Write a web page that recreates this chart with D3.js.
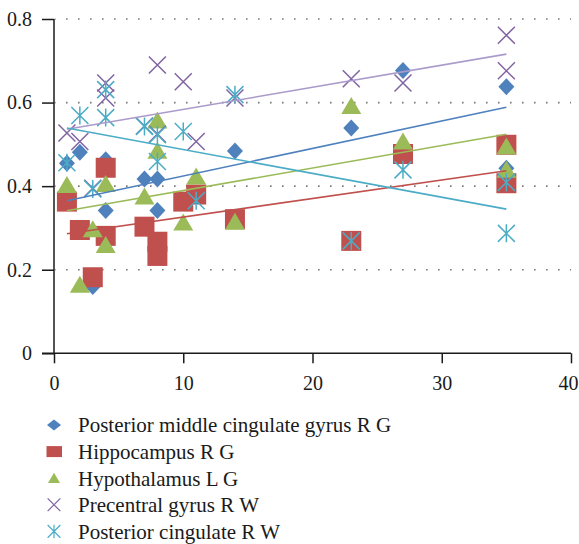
<!DOCTYPE html>
<html>
<head>
<meta charset="utf-8">
<script src="https://cdn.jsdelivr.net/npm/d3@7"></script>
<style>
  body { margin: 0; background: #fff; }
  svg { display: block; }
</style>
</head>
<body>
<div id="chart"></div>
<script>
const seriesNames = [
  "Posterior middle cingulate gyrus R G",
  "Hippocampus R G",
  "Hypothalamus L G",
  "Precentral gyrus R W",
  "Posterior cingulate R W"
];
const seriesColors = ["#4F81BD", "#C0504D", "#9BBB59", "#8064A2", "#4BACC6"];
const trendColors = ["#4F81BD", "#C0504D", "#9BBB59", "#ab9bcb", "#4BACC6"];
const markerKinds = ["diamond", "square", "triangle", "cross", "star"];

const xTicks = [0, 10, 20, 30, 40];
const yTicks = [0, 0.2, 0.4, 0.6, 0.8];

// x and y values, per series
const pmcgX = [1, 2, 3, 4, 4, 7, 8, 8, 10, 11, 14, 23, 27, 35, 35];
const pmcgY = [0.455, 0.481, 0.16, 0.463, 0.342, 0.417, 0.417, 0.342, 0.365, 0.38, 0.484, 0.539, 0.677, 0.638, 0.443];

const hippoX = [1, 2, 3, 4, 4, 7, 8, 8, 10, 11, 14, 23, 27, 35, 35];
const hippoY = [0.363, 0.295, 0.182, 0.444, 0.281, 0.303, 0.267, 0.233, 0.363, 0.38, 0.321, 0.269, 0.477, 0.499, 0.407];

const hypoX = [1, 2, 3, 4, 4, 7, 8, 8, 10, 11, 14, 23, 27, 35, 35];
const hypoY = [0.403, 0.164, 0.297, 0.405, 0.259, 0.375, 0.557, 0.485, 0.313, 0.423, 0.315, 0.592, 0.507, 0.495, 0.439];

const precX = [1, 2, 3, 4, 4, 7, 8, 8, 10, 11, 14, 23, 27, 35, 35];
const precY = [0.527, 0.507, 0.395, 0.647, 0.611, 0.544, 0.69, 0.525, 0.65, 0.507, 0.611, 0.657, 0.647, 0.761, 0.676];

const pcX = [1, 2, 3, 4, 4, 7, 8, 8, 10, 11, 14, 23, 27, 35, 35];
const pcY = [0.456, 0.569, 0.393, 0.631, 0.564, 0.543, 0.523, 0.459, 0.531, 0.365, 0.619, 0.269, 0.439, 0.409, 0.287];

// linear trend lines, value at x = 1 and x = 35
const trendX = [1, 35];
const trendStart = [0.365, 0.286, 0.341, 0.536, 0.539];
const trendEnd = [0.589, 0.437, 0.524, 0.716, 0.345];

const allX = [pmcgX, hippoX, hypoX, precX, pcX];
const allY = [pmcgY, hippoY, hypoY, precY, pcY];

const width = 579, height = 544;
const font = "'Liberation Serif', 'Times New Roman', serif";
const ink = "#1a1a1a";

const svg = d3.select("#chart").append("svg")
  .attr("width", width)
  .attr("height", height);

const x = d3.scaleLinear().domain([0, 40]).range([54, 571]);
const y = d3.scaleLinear().domain([0, 0.8]).range([353.3, 19]);

// dotted gridlines
svg.append("g")
  .selectAll("line")
  .data(yTicks.filter(d => d > 0))
  .enter()
  .append("line")
  .attr("x1", x(0) + 1)
  .attr("x2", x(40))
  .attr("y1", d => y(d))
  .attr("y2", d => y(d))
  .attr("stroke", "#7a7a7a")
  .attr("stroke-width", 1.6)
  .attr("stroke-dasharray", "1.6,10.4")
  .attr("stroke-dashoffset", -11);

// axes
const yAxis = svg.append("g")
  .attr("transform", `translate(${x(0)},0)`)
  .call(d3.axisLeft(y)
    .tickValues(yTicks)
    .tickSize(12)
    .tickPadding(10)
    .tickFormat(d => d === 0 ? "0" : d.toFixed(1)))
  .attr("font-family", font)
  .attr("font-size", 20);
yAxis.select(".domain").remove();
yAxis.selectAll(".tick line").attr("stroke", ink).attr("stroke-width", 1.5);
yAxis.selectAll(".tick text").attr("fill", ink);

const xAxis = svg.append("g")
  .attr("transform", `translate(0,${y(0)})`)
  .call(d3.axisBottom(x)
    .tickValues(xTicks)
    .tickSize(10)
    .tickPadding(13)
    .tickFormat(d3.format("d")))
  .attr("font-family", font)
  .attr("font-size", 20);
xAxis.select(".domain").remove();
xAxis.selectAll(".tick line").attr("stroke", ink).attr("stroke-width", 1.5);
xAxis.selectAll(".tick text").attr("fill", ink);
// last label sits against the right edge
xAxis.selectAll(".tick text").filter(d => d === 40)
  .attr("text-anchor", "end")
  .attr("x", 578 - x(40));

svg.append("line")
  .attr("x1", x(0)).attr("x2", x(0))
  .attr("y1", y(0.8)).attr("y2", y(0))
  .attr("stroke", ink).attr("stroke-width", 1.5);
svg.append("line")
  .attr("x1", x(0) - 12).attr("x2", x(40))
  .attr("y1", y(0)).attr("y2", y(0))
  .attr("stroke", ink).attr("stroke-width", 1.5);

// marker shapes, drawn around 0,0
function markerPath(kind, s) {
  const p = d3.path();
  if (kind === "diamond") {
    p.moveTo(0, -8.5 * s); p.lineTo(8 * s, 0); p.lineTo(0, 8.5 * s); p.lineTo(-8 * s, 0); p.closePath();
  } else if (kind === "square") {
    p.rect(-10 * s, -10 * s, 20 * s, 20 * s);
  } else if (kind === "triangle") {
    p.moveTo(0, -9 * s); p.lineTo(10 * s, 8 * s); p.lineTo(-10 * s, 8 * s); p.closePath();
  } else if (kind === "cross") {
    p.moveTo(-8.5 * s, -8.5 * s); p.lineTo(8.5 * s, 8.5 * s);
    p.moveTo(8.5 * s, -8.5 * s); p.lineTo(-8.5 * s, 8.5 * s);
  } else {
    p.moveTo(-8.5 * s, -8.5 * s); p.lineTo(8.5 * s, 8.5 * s);
    p.moveTo(8.5 * s, -8.5 * s); p.lineTo(-8.5 * s, 8.5 * s);
    p.moveTo(0, -9 * s); p.lineTo(0, 9 * s);
  }
  return p.toString();
}

function styleMarker(sel, i) {
  const kind = markerKinds[i];
  if (kind === "cross" || kind === "star") {
    sel.attr("fill", "none").attr("stroke", seriesColors[i]).attr("stroke-width", 1.5);
  } else {
    sel.attr("fill", seriesColors[i]).attr("stroke", "none");
  }
}

// points
allX.forEach((xs, i) => {
  const pts = xs.map((v, j) => ({ x: v, y: allY[i][j] }));
  const g = svg.append("g").attr("class", "series-" + i);
  g.selectAll("path")
    .data(pts)
    .enter()
    .append("path")
    .attr("transform", d => `translate(${x(d.x)},${y(d.y)})`)
    .attr("d", markerPath(markerKinds[i], 1))
    .call(styleMarker, i);
});

// trend lines
svg.append("g")
  .selectAll("line")
  .data(seriesNames.map((n, i) => i))
  .enter()
  .append("line")
  .attr("x1", x(trendX[0]))
  .attr("x2", x(trendX[1]))
  .attr("y1", i => y(trendStart[i]))
  .attr("y2", i => y(trendEnd[i]))
  .attr("stroke", i => trendColors[i])
  .attr("stroke-width", 1.6);

// legend
const legend = svg.append("g").attr("class", "legend");
const rows = legend.selectAll("g")
  .data(seriesNames)
  .enter()
  .append("g")
  .attr("transform", (d, i) => `translate(54,${425 + i * 26.6})`);

rows.append("path")
  .attr("d", (d, i) => {
    const kind = markerKinds[i];
    if (kind === "square") {
      const p = d3.path(); p.rect(-7.5, -5.5, 15.5, 11); return p.toString();
    }
    if (kind === "diamond") {
      const p = d3.path();
      p.moveTo(0, -5.5); p.lineTo(7, 0); p.lineTo(0, 5.5); p.lineTo(-7, 0); p.closePath();
      return p.toString();
    }
    if (kind === "triangle") return markerPath(kind, 0.6);
    return markerPath(kind, 0.75);
  })
  .each(function (d, i) { styleMarker(d3.select(this), i); })
  .attr("stroke-width", (d, i) => markerKinds[i] === "cross" || markerKinds[i] === "star" ? 1.2 : null);

rows.append("text")
  .attr("x", 24)
  .attr("dy", "0.35em")
  .attr("font-family", font)
  .attr("font-size", 21)
  .attr("fill", ink)
  .text(d => d);
</script>
</body>
</html>
